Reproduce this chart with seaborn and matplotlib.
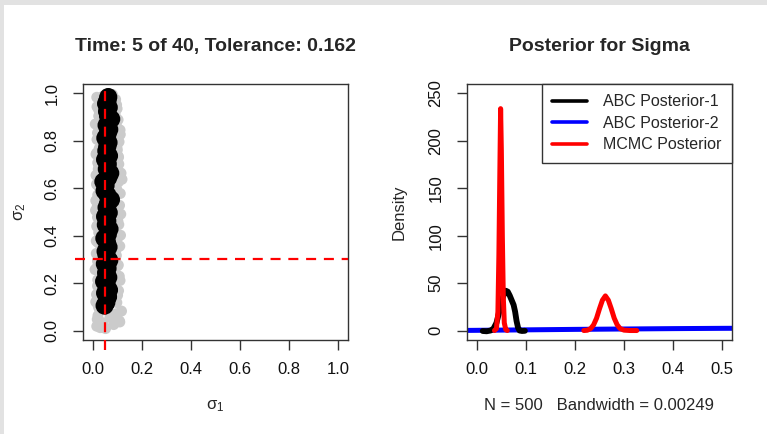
import matplotlib
matplotlib.use("Agg")
import matplotlib.pyplot as plt
from matplotlib.lines import Line2D
from matplotlib.patches import Rectangle
import seaborn as sns
import pandas as pd

# ---- particles of the current ABC generation (sigma1, sigma2) ----
prev_s1 = [0.030, 0.085, 0.052, 0.018, 0.070, 0.042, 0.095, 0.060, 0.025, 0.078,
           0.022, 0.098, 0.035, 0.088, 0.015, 0.105, 0.028, 0.080, 0.040, 0.092,
           0.093, 0.020, 0.108, 0.032, 0.084, 0.017, 0.100, 0.026, 0.090, 0.038,
           0.027, 0.096, 0.014, 0.089, 0.034, 0.110, 0.021, 0.086, 0.102, 0.030,
           0.099, 0.024, 0.087, 0.016, 0.106, 0.031, 0.091, 0.019, 0.114, 0.036,
           0.029, 0.101, 0.018, 0.094, 0.037, 0.088, 0.023, 0.112, 0.033, 0.097,
           0.090, 0.021, 0.104, 0.028, 0.095, 0.013, 0.109, 0.035, 0.086, 0.025,
           0.020, 0.092, 0.031, 0.103, 0.016, 0.089, 0.026, 0.098, 0.038, 0.107,
           0.100, 0.027, 0.094, 0.019, 0.111, 0.033, 0.087, 0.022, 0.097, 0.039,
           0.024, 0.091, 0.034, 0.099, 0.017, 0.085, 0.029, 0.093, 0.041, 0.080,
           0.016, 0.108, 0.021, 0.117, 0.012, 0.101, 0.019, 0.111, 0.009, 0.104,
           0.023, 0.096, 0.014, 0.113, 0.018, 0.102, 0.011, 0.109, 0.020, 0.098,
           0.015, 0.119, 0.022, 0.106, 0.013, 0.100, 0.017, 0.112, 0.010, 0.103,
           0.024, 0.097, 0.016, 0.110, 0.012, 0.105, 0.019, 0.115, 0.021, 0.099]
prev_s2 = [0.012, 0.025, 0.008, 0.047, 0.060, 0.033, 0.071, 0.088, 0.094, 0.052,
           0.104, 0.118, 0.131, 0.145, 0.152, 0.168, 0.176, 0.183, 0.195, 0.139,
           0.206, 0.214, 0.229, 0.238, 0.251, 0.266, 0.272, 0.287, 0.293, 0.245,
           0.303, 0.317, 0.325, 0.339, 0.348, 0.356, 0.371, 0.384, 0.392, 0.364,
           0.407, 0.413, 0.426, 0.439, 0.447, 0.458, 0.469, 0.478, 0.491, 0.432,
           0.502, 0.516, 0.523, 0.537, 0.544, 0.559, 0.566, 0.578, 0.589, 0.595,
           0.604, 0.611, 0.626, 0.634, 0.648, 0.655, 0.667, 0.679, 0.686, 0.697,
           0.708, 0.719, 0.727, 0.736, 0.749, 0.757, 0.768, 0.774, 0.789, 0.796,
           0.803, 0.815, 0.822, 0.834, 0.846, 0.853, 0.867, 0.875, 0.886, 0.898,
           0.905, 0.913, 0.927, 0.936, 0.944, 0.958, 0.966, 0.975, 0.988, 0.996,
           0.018, 0.041, 0.063, 0.082, 0.121, 0.149, 0.188, 0.211, 0.257, 0.276,
           0.321, 0.343, 0.378, 0.402, 0.443, 0.463, 0.507, 0.528, 0.572, 0.593,
           0.617, 0.638, 0.681, 0.702, 0.744, 0.762, 0.806, 0.827, 0.871, 0.889,
           0.931, 0.952, 0.984, 0.036, 0.548, 0.731, 0.293, 0.664, 0.117, 0.857]

# accepted particles (within tolerance)
acc_s1 = [0.048, 0.055, 0.062, 0.050, 0.066, 0.057, 0.046, 0.063, 0.054, 0.060,
          0.049, 0.067, 0.056, 0.052, 0.064, 0.058, 0.047, 0.061, 0.068, 0.053,
          0.059, 0.050, 0.065, 0.056, 0.062, 0.074, 0.060, 0.048, 0.043, 0.052,
          0.063, 0.071, 0.057, 0.061, 0.050, 0.066, 0.055, 0.059, 0.064, 0.051,
          0.060, 0.067, 0.056, 0.075, 0.062, 0.058, 0.065, 0.054, 0.060, 0.063]
acc_s2 = [0.105, 0.118, 0.142, 0.158, 0.171, 0.189, 0.207, 0.224, 0.243, 0.262,
          0.281, 0.296, 0.318, 0.334, 0.352, 0.371, 0.389, 0.405, 0.428, 0.446,
          0.462, 0.481, 0.497, 0.519, 0.536, 0.552, 0.571, 0.589, 0.628, 0.612,
          0.645, 0.664, 0.681, 0.702, 0.721, 0.737, 0.758, 0.776, 0.793, 0.812,
          0.829, 0.848, 0.866, 0.892, 0.905, 0.924, 0.941, 0.957, 0.972, 0.985]

true_s1 = 0.05
true_s2 = 0.30

# ---- posterior density curves ----
abc1_x = [0.012, 0.020, 0.028, 0.034, 0.040, 0.045, 0.050, 0.055, 0.059, 0.063,
          0.067, 0.071, 0.075, 0.078, 0.081, 0.084, 0.087, 0.092, 0.098]
abc1_y = [-0.5, -0.8, 0.0, 2.0, 8.0, 18.0, 30.0, 38.0, 42.0, 41.0,
          37.0, 32.0, 27.0, 20.0, 10.0, 3.0, 0.0, -0.5, -0.3]

abc2_x = [-0.05, 0.0, 0.1, 0.2, 0.3, 0.4, 0.5, 0.6]
abc2_y = [0.0, 0.2, 0.7, 1.2, 1.6, 2.0, 2.3, 2.5]

mcmc1_x = [0.036, 0.040, 0.043, 0.045, 0.047, 0.0485, 0.050, 0.052, 0.054, 0.056, 0.059, 0.062]
mcmc1_y = [0.0, 2.0, 20.0, 80.0, 170.0, 234.0, 190.0, 100.0, 35.0, 8.0, 1.0, 0.0]

mcmc2_x = [0.218, 0.225, 0.232, 0.238, 0.244, 0.250, 0.256, 0.262, 0.268, 0.274,
           0.280, 0.286, 0.292, 0.300, 0.312, 0.326]
mcmc2_y = [0.0, 0.3, 2.0, 6.0, 13.0, 23.0, 32.0, 36.5, 32.0, 23.0,
           13.0, 6.0, 2.0, 0.4, 0.0, 0.0]

legend_labels = ["ABC Posterior-1", "ABC Posterior-2", "MCMC Posterior"]
legend_colors = ["black", "#0000ff", "#ff0000"]

left_title = "Time: 5 of 40, Tolerance: 0.162"
right_title = "Posterior for Sigma"
right_xlabel = "N = 500   Bandwidth = 0.00249"

# ---- style ----
sns.set_style("ticks")
plt.rcParams["font.family"] = ["Liberation Sans", "DejaVu Sans"]
plt.rcParams["mathtext.fontset"] = "custom"
plt.rcParams["mathtext.rm"] = "Liberation Sans"
plt.rcParams["mathtext.it"] = "Liberation Sans:italic"

W, H = 767, 434
fig = plt.figure(figsize=(W / 100, H / 100), dpi=100)
fig.patch.set_facecolor("white")
# thin grey window border on top and left
fig.patches.append(Rectangle((0, 1 - 5 / H), 1, 5 / H, transform=fig.transFigure,
                             facecolor="#e2e2e2", edgecolor="none", zorder=0))
fig.patches.append(Rectangle((0, 0), 4 / W, 1, transform=fig.transFigure,
                             facecolor="#e2e2e2", edgecolor="none", zorder=0))

ax1 = fig.add_axes([83 / W, 1 - 340 / H, 265 / W, 256 / H])
ax2 = fig.add_axes([467 / W, 1 - 340 / H, 265 / W, 256 / H])

spine_col = "#333333"
for ax in (ax1, ax2):
    for sp in ax.spines.values():
        sp.set_visible(True)
        sp.set_color(spine_col)
        sp.set_linewidth(1.0)
    ax.tick_params(axis="both", direction="out", length=7, width=1.0,
                   color=spine_col, labelsize=12, labelcolor="#111111")
    ax.tick_params(axis="x", pad=9)
    ax.tick_params(axis="y", pad=10)

# ---- left panel: particles ----
df_prev = pd.DataFrame({"s1": prev_s1, "s2": prev_s2})
df_acc = pd.DataFrame({"s1": acc_s1, "s2": acc_s2})
sns.scatterplot(data=df_prev, x="s1", y="s2", ax=ax1, s=62, color="#cbcbcb",
                edgecolor="none", linewidth=0, zorder=2)
sns.scatterplot(data=df_acc, x="s1", y="s2", ax=ax1, s=170, color="black",
                edgecolor="none", linewidth=0, zorder=3)
ax1.axvline(true_s1, ymin=-0.04, ymax=1, color="#ff0000", lw=1.6,
            dashes=(4.5, 3.5), clip_on=False, zorder=4)
ax1.axhline(true_s2, xmin=-0.03, xmax=1, color="#ff0000", lw=1.6,
            dashes=(4.5, 3.5), clip_on=False, zorder=4)
ax1.set_xlim(-0.04, 1.04)
ax1.set_ylim(-0.04, 1.04)
ticks = [0.0, 0.2, 0.4, 0.6, 0.8, 1.0]
ax1.set_xticks(ticks)
ax1.set_xticklabels([f"{t:.1f}" for t in ticks])
ax1.set_yticks(ticks)
ax1.set_yticklabels([f"{t:.1f}" for t in ticks], rotation=90, va="center")
ax1.set_xlabel("σ$_1$", fontsize=12, labelpad=15)
ax1.set_ylabel("σ$_2$", fontsize=12, labelpad=12)
ax1.set_title(left_title, fontsize=14, fontweight="bold", pad=24)

# ---- right panel: densities ----
sns.lineplot(x=abc2_x, y=abc2_y, ax=ax2, color=legend_colors[1], lw=3.6,
             sort=False, estimator=None, zorder=2)
sns.lineplot(x=abc1_x, y=abc1_y, ax=ax2, color=legend_colors[0], lw=4.2,
             sort=False, estimator=None, zorder=3)
sns.lineplot(x=mcmc1_x, y=mcmc1_y, ax=ax2, color=legend_colors[2], lw=3.6,
             sort=False, estimator=None, zorder=4)
sns.lineplot(x=mcmc2_x, y=mcmc2_y, ax=ax2, color=legend_colors[2], lw=3.6,
             sort=False, estimator=None, zorder=4)
ax2.set_xlim(-0.02, 0.52)
ax2.set_ylim(-10, 260)
xt = [0.0, 0.1, 0.2, 0.3, 0.4, 0.5]
ax2.set_xticks(xt)
ax2.set_xticklabels([f"{t:.1f}" for t in xt])
yt = [0, 50, 100, 150, 200, 250]
ax2.set_yticks(yt)
ax2.set_yticklabels([str(t) for t in yt], rotation=90, va="center")
ax2.set_xlabel(right_xlabel, fontsize=12, labelpad=15)
ax2.set_ylabel("Density", fontsize=12, labelpad=16)
ax2.set_title(right_title, fontsize=14, fontweight="bold", pad=24)

handles = [Line2D([0], [0], color=c, lw=2.6) for c in legend_colors]
leg = ax2.legend(handles, legend_labels, loc="upper right", fontsize=11.5,
                 frameon=True, fancybox=False, framealpha=1, edgecolor=spine_col,
                 borderaxespad=0, handlelength=2.2, handletextpad=1.0,
                 labelspacing=0.4, borderpad=0.65)
leg.get_frame().set_linewidth(1.0)

fig.savefig("out.png", dpi=100, facecolor="white")
